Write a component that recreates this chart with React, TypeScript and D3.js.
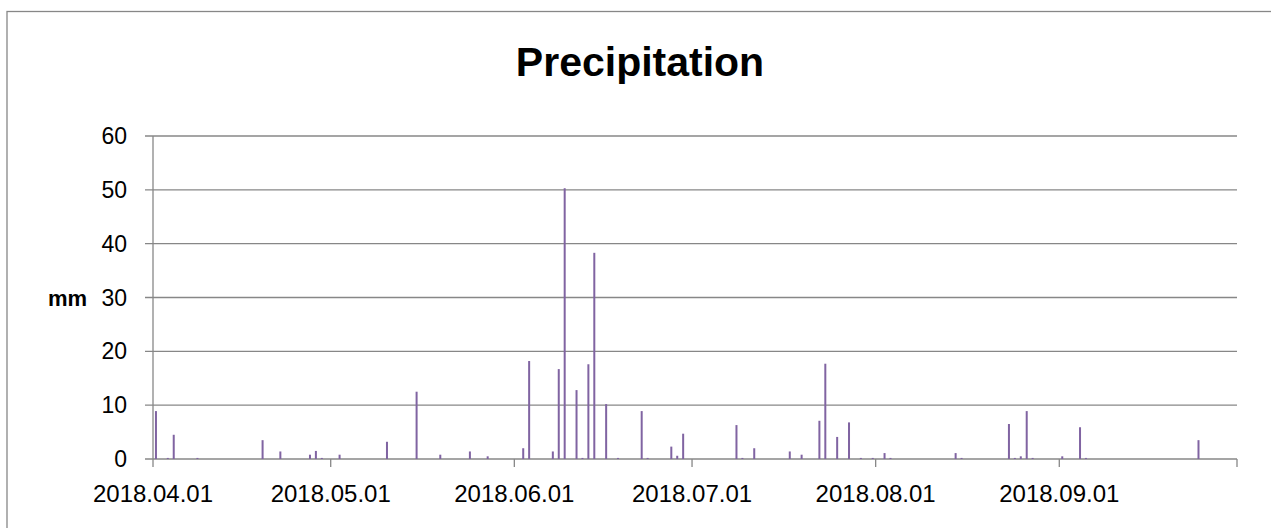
import React from "react";
import * as d3 from "d3";

const dates: string[] = [
  "2018-04-01","2018-04-03","2018-04-04","2018-04-08","2018-04-19","2018-04-22","2018-04-27","2018-04-28","2018-04-29",
  "2018-05-02","2018-05-10","2018-05-15","2018-05-19","2018-05-24","2018-05-27",
  "2018-06-02","2018-06-03","2018-06-07","2018-06-08","2018-06-09","2018-06-11","2018-06-12","2018-06-13","2018-06-14","2018-06-16","2018-06-18","2018-06-22","2018-06-23","2018-06-27","2018-06-28","2018-06-29",
  "2018-07-08","2018-07-09","2018-07-11","2018-07-17","2018-07-19","2018-07-22","2018-07-23","2018-07-25","2018-07-27","2018-07-29","2018-07-31",
  "2018-08-02","2018-08-03","2018-08-14","2018-08-15","2018-08-23","2018-08-24","2018-08-25","2018-08-26","2018-08-27",
  "2018-09-01","2018-09-04","2018-09-05","2018-09-24"
];
const precipitation: number[] = [
  8.9,0.2,4.5,0.2,3.5,1.4,0.8,1.5,0.2,
  0.8,3.2,12.5,0.8,1.4,0.5,
  2.0,18.2,1.4,16.7,50.3,12.8,0.2,17.6,38.3,10.2,0.2,8.9,0.2,2.3,0.6,4.7,
  6.3,0.2,2.0,1.4,0.8,7.1,17.7,4.1,6.8,0.2,0.2,
  1.1,0.2,1.1,0.2,6.5,0.2,0.5,8.9,0.2,
  0.5,5.9,0.2,3.5
];
const yTicks: number[] = [0, 10, 20, 30, 40, 50, 60];
const title = "Precipitation";
const yLabel = "mm";

const W = 1271, H = 528;
const grid = "#878787";
const font = "'Liberation Sans', Arial, sans-serif";

export default function App() {
  const parse = d3.utcParse("%Y-%m-%d");
  const start = parse("2018-04-01") as Date;
  const end = parse("2018-10-01") as Date;
  const x = d3.scaleUtc().domain([start, end]).range([153, 1237]);
  const y = d3.scaleLinear().domain([0, 60]).range([459, 136]);
  const fmt = d3.utcFormat("%Y.%m.%d");
  const monthTicks = d3.utcMonth.range(start, d3.utcDay.offset(end, 1));
  const labelTicks = monthTicks.filter((d) => d < end);

  return (
    <svg width={W} height={H} style={{ position: "absolute", left: 0, top: 0 }}>
      <rect x={0} y={0} width={W} height={H} fill="#fff" />
      <rect x={7} y={11.5} width={W + 20} height={H + 20} fill="none" stroke={grid} strokeWidth={1.3} />
      <text x={640} y={76} textAnchor="middle" fontFamily={font} fontWeight="bold" fontSize={41} fill="#000">
        {title}
      </text>
      {yTicks.map((t) => (
        <g key={t}>
          <line x1={145} x2={1237} y1={y(t)} y2={y(t)} stroke={grid} strokeWidth={1.3} />
          <text x={127} y={y(t) + 8} textAnchor="end" fontFamily={font} fontSize={23} fill="#000">
            {t}
          </text>
        </g>
      ))}
      <line x1={153} x2={153} y1={136} y2={459} stroke={grid} strokeWidth={1.3} />
      <text x={87} y={306} textAnchor="end" fontFamily={font} fontWeight="bold" fontSize={22} fill="#000">
        {yLabel}
      </text>
      {monthTicks.map((d) => (
        <line key={d.toISOString()} x1={x(d)} x2={x(d)} y1={459} y2={467} stroke={grid} strokeWidth={1.3} />
      ))}
      {labelTicks.map((d) => (
        <text key={"l" + d.toISOString()} x={x(d)} y={502} textAnchor="middle" fontFamily={font} fontSize={24} fill="#000">
          {fmt(d)}
        </text>
      ))}
      {dates.map((ds, i) => {
        const d = parse(ds) as Date;
        const cx = (x(d) + x(d3.utcDay.offset(d, 1))) / 2;
        return (
          <rect key={ds} x={cx - 1} y={y(precipitation[i])} width={2} height={y(0) - y(precipitation[i])} fill="#8064A2" />
        );
      })}
    </svg>
  );
}
